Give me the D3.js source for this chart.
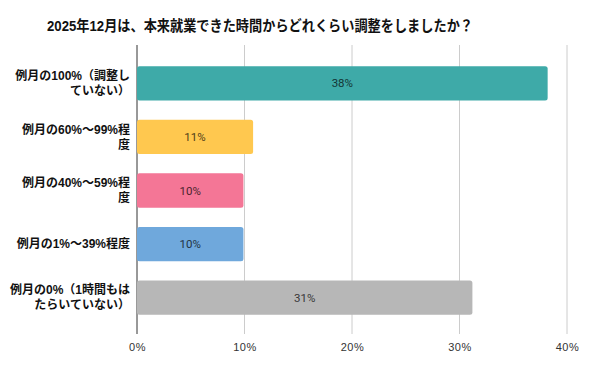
<!DOCTYPE html>
<html>
<head>
<meta charset="utf-8">
<script src="https://cdn.jsdelivr.net/npm/d3@7"></script>
<style>
  body { margin: 0; background: #fff; }
  svg { display: block; }
</style>
</head>
<body>
<div id="chart"></div>
<script>
// chart data
var title = '2025年12月は、本来就業できた時間からどれくらい調整をしましたか？';
var categories = [
  ['例月の100%（調整し', 'ていない）'],
  ['例月の60%～99%程', '度'],
  ['例月の40%～59%程', '度'],
  ['例月の1%～39%程度'],
  ['例月の0%（1時間もは', 'たらいていない）']
];
var values = [38.2, 10.8, 9.9, 9.9, 31.2];
var valueLabels = ['38%', '11%', '10%', '10%', '31%'];
var colors = ['#3eaaa8', '#ffc84f', '#f47696', '#6fa8dc', '#b7b7b7'];
var xTicks = [0, 10, 20, 30, 40];

var width = 600, height = 371;
var margin = {top: 45, right: 33, bottom: 37, left: 137};
var w = width - margin.left - margin.right,
    h = height - margin.top - margin.bottom;

var svg = d3.select('#chart').append('svg')
  .attr('width', width)
  .attr('height', height);

// title
svg.append('text')
  .attr('x', 47)
  .attr('y', 31)
  .attr('textLength', 426)
  .attr('lengthAdjust', 'spacingAndGlyphs')
  .style('font-family', '"Liberation Sans", "Noto Sans CJK JP", sans-serif')
  .style('font-weight', 'bold')
  .style('font-size', '14.5px')
  .attr('fill', '#111')
  .text(title);

var g = svg.append('g')
  .attr('transform', 'translate(' + margin.left + ',' + margin.top + ')');

var x = d3.scaleLinear().domain([0, 40]).range([0, w]);
var y = d3.scaleBand()
  .domain(d3.range(categories.length))
  .range([2, h])
  .paddingInner(0.36)
  .paddingOuter(0.36);

// gridlines
g.append('g').attr('class', 'grid')
  .selectAll('line')
  .data(xTicks)
  .join('line')
  .attr('x1', function(d) { return x(d); })
  .attr('x2', function(d) { return x(d); })
  .attr('y1', 0)
  .attr('y2', h)
  .attr('stroke', function(d) { return d === 0 ? '#333' : '#ccc'; })
  .attr('stroke-width', 1);

// x axis labels
var xAxis = g.append('g')
  .attr('transform', 'translate(0,' + h + ')')
  .call(d3.axisBottom(x).tickValues(xTicks).tickSize(0).tickPadding(9)
    .tickFormat(function(d) { return d + '%'; }));
xAxis.select('.domain').remove();
xAxis.selectAll('text')
  .style('font-family', '"Liberation Sans", sans-serif')
  .style('font-size', '11px')
  .style('letter-spacing', '0.5px')
  .attr('fill', '#333');

// bars
g.selectAll('.bar')
  .data(values)
  .join('rect')
  .attr('class', 'bar')
  .attr('x', x(0))
  .attr('y', function(d, i) { return y(i); })
  .attr('width', function(d) { return x(d) - x(0); })
  .attr('height', y.bandwidth())
  .attr('rx', 2.5)
  .attr('fill', function(d, i) { return colors[i]; });

// value labels
g.selectAll('.val')
  .data(values)
  .join('text')
  .attr('class', 'val')
  .attr('x', function(d) { return (x(d) + x(0)) / 2; })
  .attr('y', function(d, i) { return y(i) + y.bandwidth() / 2; })
  .attr('dy', '0.35em')
  .attr('text-anchor', 'middle')
  .style('font-family', 'Roboto, sans-serif')
  .style('font-size', '11.5px')
  .attr('fill', function(d, i) { return d3.color(colors[i]).darker(3.3); })
  .text(function(d, i) { return valueLabels[i]; });

// category labels
var cat = g.selectAll('.cat')
  .data(categories)
  .join('text')
  .attr('class', 'cat')
  .attr('text-anchor', 'end')
  .attr('transform', function(d, i) {
    var cy = y(i) + y.bandwidth() / 2 - (d.length - 1) * 7.5;
    return 'translate(-7,' + cy + ')';
  })
  .style('font-family', '"Liberation Sans", "Noto Sans CJK JP", sans-serif')
  .style('font-weight', 'bold')
  .style('font-size', '12px')
  .attr('fill', '#111');

cat.selectAll('tspan')
  .data(function(d) { return d; })
  .join('tspan')
  .attr('x', 0)
  .attr('dy', function(d, i) { return i === 0 ? '0.35em' : '15'; })
  .text(function(d) { return d; });
</script>
</body>
</html>
